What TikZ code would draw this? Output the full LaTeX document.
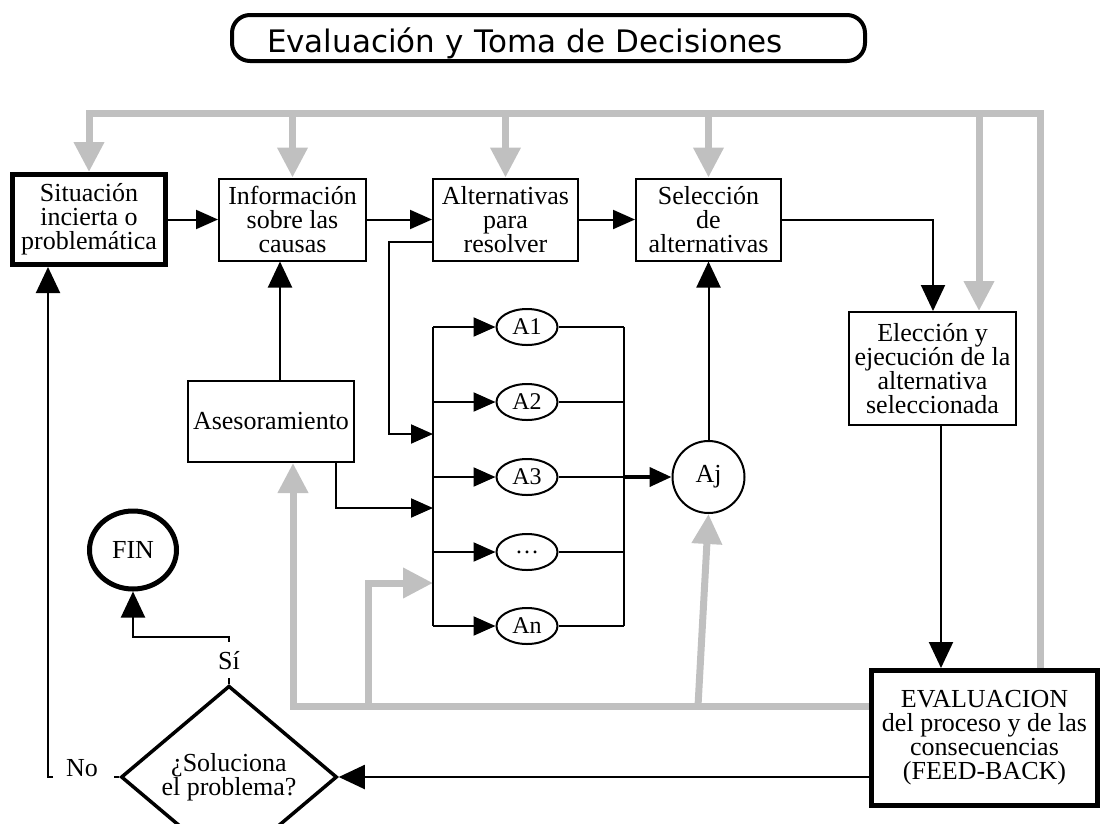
\documentclass[tikz,border=0pt]{standalone}
\usepackage{fontspec}
\setmainfont{Liberation Serif}
\newfontfamily\titlefont{DejaVu Sans}
\usetikzlibrary{arrows.meta,shapes.geometric}
\definecolor{feedgrey}{RGB}{192,192,192}
\begin{document}
\begin{tikzpicture}[x=1pt,y=-1pt,
  every node/.style={font=\fontsize{26}{24}\selectfont},
  box/.style={draw, line width=2pt, inner sep=0pt, align=center},
  thickbox/.style={box, line width=5pt},
  altnode/.style={draw, ellipse, line width=2pt, minimum width=61pt, minimum height=36pt,
    inner sep=0pt, font=\fontsize{24}{24}\selectfont},
  link/.style={line width=2pt},
  harr/.style={link, -{Triangle[length=22pt,width=19pt]}},
  varr/.style={link, -{Triangle[length=26pt,width=24pt]}},
  feed/.style={draw=feedgrey, line width=7pt},
  feedarr/.style={feed, -{Triangle[length=30pt,width=29pt]}},
]
\useasboundingbox (0,0) rectangle (1103,823);
\clip (0,0) rectangle (1103,823);

% title
\node[draw, line width=4pt, rounded corners=18pt, minimum height=46pt, text width=563pt,
  inner xsep=35pt, inner ysep=0pt, align=left, text height=28pt, text depth=0pt,
  font=\titlefont\fontsize{31}{36}\selectfont] (title) at (548.5,38)
  {Evaluación y Toma de Decisiones};

% main stages
\node[thickbox, minimum width=153pt, minimum height=90pt] (sit) at (89,219.5)
  {Situación\\incierta o\\problemática};
\node[box, minimum width=147pt, minimum height=82pt] (info) at (292.5,219.5)
  {Información\\sobre las\\causas};
\node[box, minimum width=145pt, minimum height=82pt] (alt) at (505.5,219.5)
  {Alternativas\\para\\resolver};
\node[box, minimum width=145pt, minimum height=82pt] (sel) at (708.5,219.5)
  {Selección\\de\\alternativas};
\node[box, minimum width=167pt, minimum height=113pt] (elec) at (932.5,368.5)
  {Elección y\\ejecución de la\\alternativa\\seleccionada};
\node[box, minimum width=166pt, minimum height=81pt] (ases) at (271,421.5)
  {Asesoramiento};
\node[thickbox, minimum width=226pt, minimum height=135pt] (eval) at (984.5,738)
  {EVALUACION\\del proceso y de las\\consecuencias\\(FEED-BACK)};

% alternatives
\node[altnode] (a1) at (527,327) {A1};
\node[altnode] (a2) at (527,402) {A2};
\node[altnode] (a3) at (527,477) {A3};
\node[altnode] (adots) at (527,552) {\ldots};
\node[altnode] (an) at (527,626) {An};
\node[draw, circle, line width=2pt, minimum size=72pt, inner sep=0pt] (aj) at (708.5,477) {Aj};

% end and decision
\node[draw, ellipse, line width=5pt, minimum width=87pt, minimum height=78pt, inner sep=0pt]
  (fin) at (133,550) {FIN};
\node[draw, diamond, line width=3.5pt, minimum width=216pt, minimum height=140pt,
  inner sep=0pt, align=center] (dec) at (229,777) {¿Soluciona\\el problema?};
\node (no) at (82,768) {No};

% helper coordinates
\coordinate (gR) at (1040,113);
\coordinate (gE) at (979,113);
\coordinate (gB) at (293,706);
\coordinate (gM) at (368,706);
\coordinate (gN) at (368,583);
\coordinate (gJ) at (698,706);
\coordinate (bx) at (433,0);
\coordinate (rx) at (624,0);
\coordinate (cA) at (389,242);
\coordinate (cA2) at (389,434);
\coordinate (cB) at (336,508);
\coordinate (cI) at (280,0);
\coordinate (cS) at (933,219.5);
\coordinate (cE) at (941,0);
\coordinate (cY) at (229,637);
\coordinate (cN) at (114,777);
\coordinate (cL) at (48,777);
\coordinate (cL2) at (53,777);

% grey feedback paths
\draw[feedarr] (eval.north -| gR) -- (gR) -- (sit.north |- gR) -- (sit.north);
\draw[feedarr] (info.north |- gR) -- (info.north);
\draw[feedarr] (alt.north |- gR) -- (alt.north);
\draw[feedarr] (sel.north |- gR) -- (sel.north);
\draw[feedarr] (gE) -- (elec.north -| gE);
\draw[feedarr] (eval.west |- gB) -- (gB) -- (ases.south -| gB);
\draw[feedarr] (gM) -- (gN) -- (gN -| bx);
\draw[feedarr] (gJ) -- (aj.south);

% main flow
\draw[harr] (sit) -- (info);
\draw[harr] (info) -- (alt);
\draw[harr] (alt) -- (sel);
\draw[varr] (sel.east) -- (cS) -- (elec.north -| cS);
\draw[varr] (elec.south -| cE) -- (eval.north -| cE);
\draw[varr] (eval.west |- dec) -- (dec.east);
\draw[varr] (ases.north -| cI) -- (info.south -| cI);

% alternatives bus
\draw[harr] (alt.west |- cA) -- (cA) -- (cA2) -- (cA2 -| bx);
\draw[harr] (ases.south -| cB) -- (cB) -- (cB -| bx);
\draw[link] (a1 -| bx) -- (an -| bx);
\foreach \n in {a1,a2,a3,adots,an}{
  \draw[harr] (\n -| bx) -- (\n.west);
  \draw[link] (\n.east) -- (\n -| rx);
}
\draw[link] (a1 -| rx) -- (an -| rx);
\draw[harr, line width=4pt] (a3 -| rx) -- (aj.west);
\draw[varr] (aj) -- (sel);

% decision outcomes
\draw[varr] (dec.north) -- node[fill=white, inner xsep=1pt, inner ysep=0pt, minimum height=36pt] (si) {Sí}
  (cY) -- (fin.south |- cY) -- (fin.south);
\draw[link] (dec.west) -- (cN);
\draw[varr] (cL2) -- (cL) -- (sit.south -| cL);
\end{tikzpicture}
\end{document}
